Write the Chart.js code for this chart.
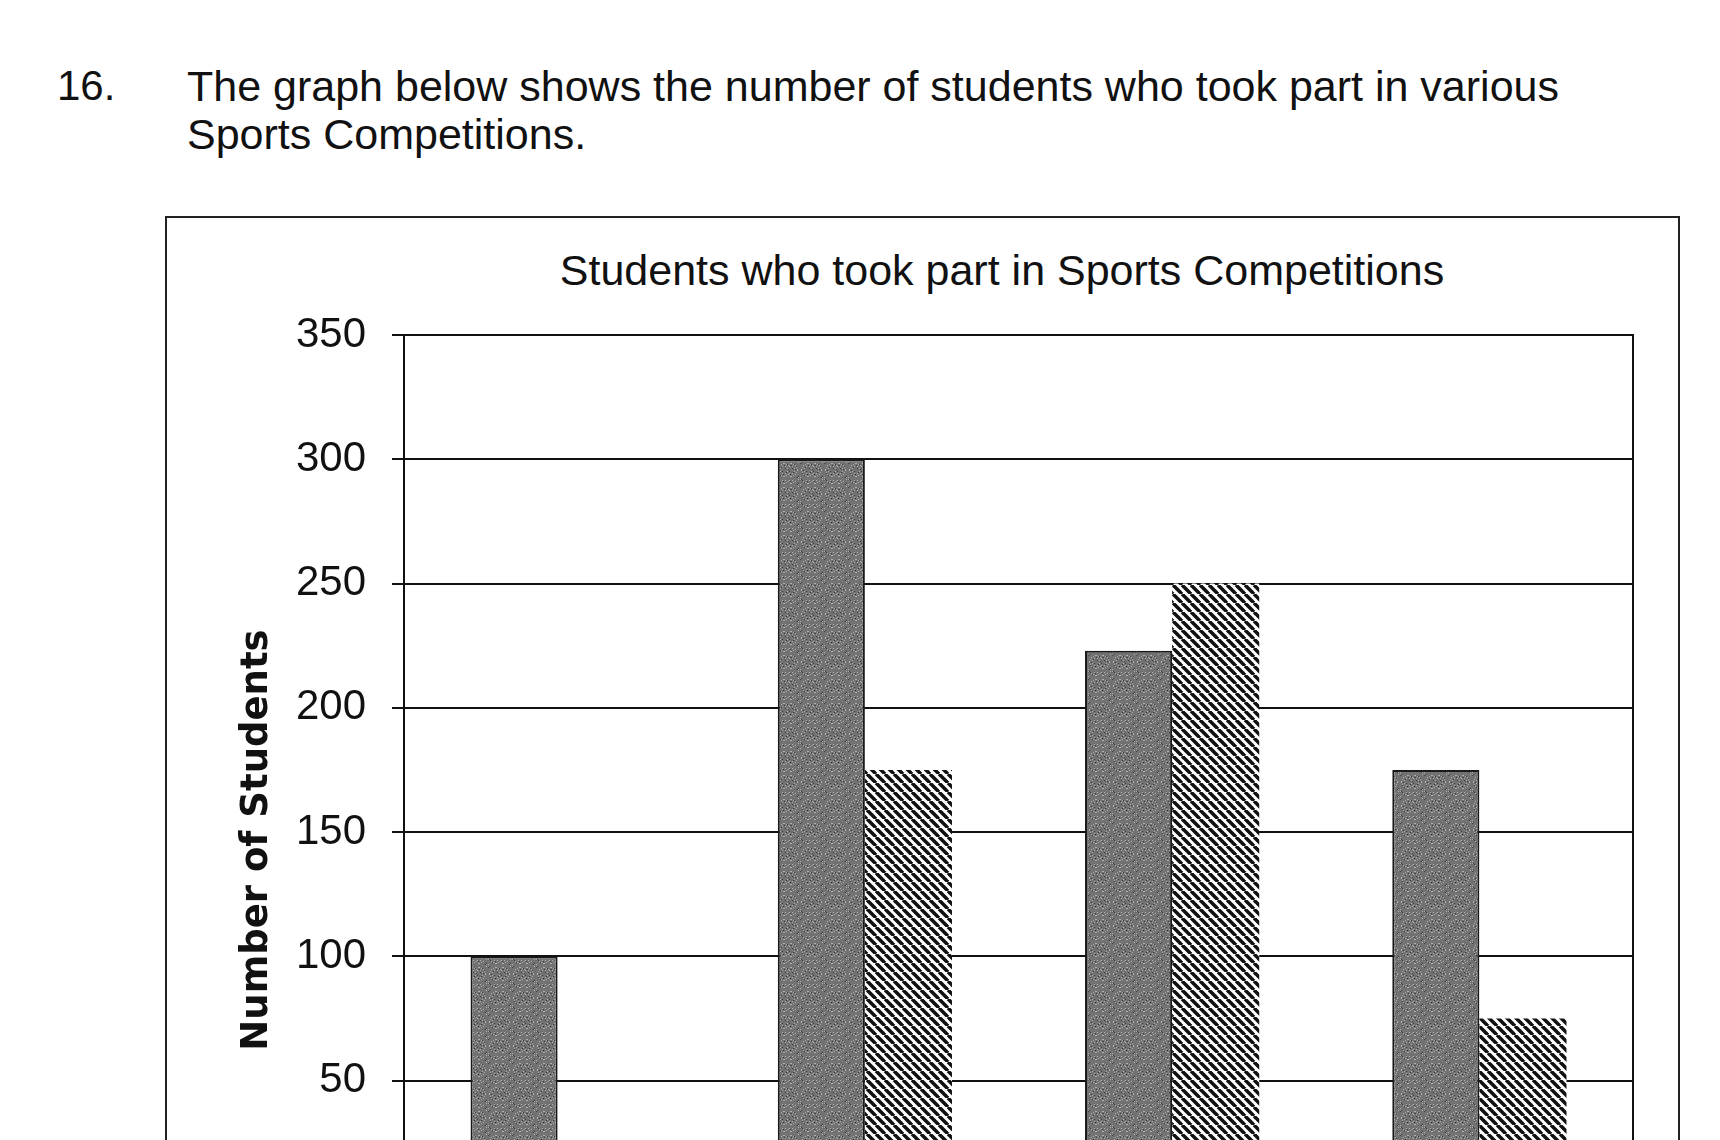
<!DOCTYPE html>
<html>
<head>
<meta charset="utf-8">
<script src="https://cdn.jsdelivr.net/npm/chart.js@4.4.1/dist/chart.umd.min.js"></script>
<style>
  html, body { margin: 0; padding: 0; background: #fff; overflow: hidden; width: 1720px; height: 1140px; }
  .txt { position: absolute; font-family: "Liberation Sans", Arial, sans-serif; color: #111; white-space: nowrap; }
  #num { left: 57px; top: 62px; font-size: 42px; line-height: 48px; }
  #question { left: 187px; top: 62px; font-size: 43px; line-height: 48px; }
  #box { position: absolute; left: 165px; top: 216px; width: 1511px; height: 1100px; border: 2px solid #222; }
  #title { left: 552px; width: 900px; top: 246px; text-align: center; font-size: 43px; line-height: 48px; }
  #ytitle { left: 5px; width: 500px; top: 815px; line-height: 50px; text-align: center;
            font-family: "DejaVu Sans", sans-serif; font-weight: bold; font-size: 37px;
            transform: rotate(-90deg); }
  #wrap { position: absolute; left: 165px; top: 216px; width: 1513px; height: 1069px; }
</style>
</head>
<body>
<div class="txt" id="num">16.</div>
<div class="txt" id="question">The graph below shows the number of students who took part in various<br>Sports Competitions.</div>
<div id="box"></div>
<div class="txt" id="title">Students who took part in Sports Competitions</div>
<div id="wrap"><canvas id="sportsChart"></canvas></div>
<div class="txt" id="ytitle">Number of Students</div>
<script>
// data (bottom of the chart is cut off)
const categories = ['Sport 1', 'Sport 2', 'Sport 3', 'Sport 4'];
const seriesA = [100, 300, 223, 175];
const seriesB = [25, 175, 250, 75];
const yTicks = [0, 50, 100, 150, 200, 250, 300, 350];

// grey stipple like the photocopy
function speckle() {
  const c = document.createElement('canvas');
  c.width = c.height = 24;
  const g = c.getContext('2d');
  g.fillStyle = '#727272';
  g.fillRect(0, 0, 24, 24);
  for (let i = 0; i < 24; i++) {
    for (let j = 0; j < 24; j++) {
      const h = (i * 37 + j * 91 + i * j * 13) % 17;
      if (h === 0 || h === 9) { g.fillStyle = '#b0b0b0'; g.fillRect(i, j, 1, 1); }
      else if (h === 5) { g.fillStyle = '#383838'; g.fillRect(i, j, 1, 1); }
    }
  }
  return g.createPattern(c, 'repeat');
}

// diagonal hatching, top-left to bottom-right
function hatch() {
  const s = 9;
  const c = document.createElement('canvas');
  c.width = c.height = s;
  const g = c.getContext('2d');
  g.fillStyle = '#fff';
  g.fillRect(0, 0, s, s);
  g.strokeStyle = '#111';
  g.lineWidth = 3.5;
  for (const o of [-s, 0, s]) {
    g.beginPath();
    g.moveTo(o, 0);
    g.lineTo(o + s, s);
    g.stroke();
  }
  return g.createPattern(c, 'repeat');
}

// frame round the plot area
const plotFrame = {
  id: 'plotFrame',
  afterDraw(chart) {
    const a = chart.chartArea;
    const ctx = chart.ctx;
    ctx.save();
    ctx.strokeStyle = '#111';
    ctx.lineWidth = 2;
    ctx.strokeRect(a.left, a.top, a.right - a.left, a.bottom - a.top);
    ctx.restore();
  }
};

const ctx = document.getElementById('sportsChart').getContext('2d');

new Chart(ctx, {
  type: 'bar',
  data: {
    labels: categories,
    datasets: [
      {
        label: 'Series A',
        data: seriesA,
        backgroundColor: speckle(),
        borderColor: '#1a1a1a',
        borderWidth: 2,
        categoryPercentage: 0.567,
        barPercentage: 1
      },
      {
        label: 'Series B',
        data: seriesB,
        backgroundColor: hatch(),
        borderWidth: 0,
        categoryPercentage: 0.567,
        barPercentage: 1
      }
    ]
  },
  options: {
    responsive: true,
    maintainAspectRatio: false,
    animation: false,
    layout: {
      padding: { left: 0, top: 119, right: 45, bottom: 0 }
    },
    plugins: {
      legend: { display: false },
      tooltip: { enabled: false },
      title: { display: false }
    },
    scales: {
      y: {
        min: 0,
        max: 350,
        afterBuildTicks(scale) {
          scale.ticks = yTicks.map(v => ({ value: v }));
        },
        afterFit(scale) {
          scale.width = 239;
        },
        grid: {
          color: '#111',
          lineWidth: 2,
          tickLength: 12,
          drawTicks: true
        },
        border: { color: '#111', width: 2 },
        ticks: {
          color: '#111',
          padding: 26,
          font: { family: '"Liberation Sans", Arial, sans-serif', size: 42 }
        }
      },
      x: {
        afterFit(scale) {
          scale.height = 80;
        },
        grid: { display: false },
        border: { color: '#111', width: 2 },
        ticks: {
          color: '#111',
          font: { family: '"Liberation Sans", Arial, sans-serif', size: 36 }
        }
      }
    }
  },
  plugins: [plotFrame]
});
</script>
</body>
</html>
